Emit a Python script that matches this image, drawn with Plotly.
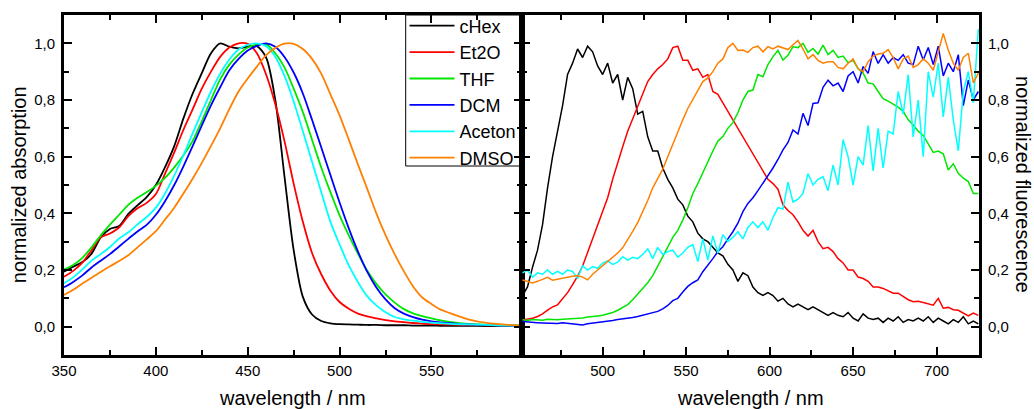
import plotly.graph_objects as go

# ---------------- data ----------------
SOLVENTS = ["cHex", "Et2O", "THF", "DCM", "Aceton", "DMSO"]
COLORS = ["#000000", "#ff0000", "#00e600", "#0000ff", "#00ffff", "#ff8000"]

WL_ABS = [350, 355, 360, 365, 370, 375, 380, 385, 390, 395, 400, 405, 410, 415, 420,
          425, 430, 435, 440, 445, 450, 455, 460, 465, 470, 475, 480, 485, 490, 495,
          500, 505, 510, 515, 520, 525, 530, 535, 540, 545, 550, 555, 560, 570, 580,
          590, 600]

ABS_CHEX = [0.194, 0.212, 0.228, 0.258, 0.315, 0.345, 0.355, 0.398, 0.428, 0.457, 0.50,
            0.563, 0.637, 0.735, 0.822, 0.895, 0.965, 1.0, 0.988, 0.982, 0.988, 0.99,
            0.95, 0.80, 0.53, 0.27, 0.105, 0.043, 0.02, 0.012, 0.009, 0.008, 0.007,
            0.006, 0.006, 0.005, 0.005, 0.005, 0.004, 0.004, 0.004, 0.003, 0.003,
            0.003, 0.002, 0.002, 0.002]
ABS_ET2O = [0.176, 0.197, 0.226, 0.27, 0.315, 0.329, 0.35, 0.39, 0.418, 0.437, 0.468,
            0.54, 0.615, 0.695, 0.767, 0.84, 0.90, 0.952, 0.985, 1.0, 0.998, 0.965,
            0.89, 0.785, 0.655, 0.505, 0.37, 0.26, 0.185, 0.127, 0.087, 0.063, 0.046,
            0.036, 0.029, 0.023, 0.019, 0.016, 0.013, 0.011, 0.009, 0.008, 0.007,
            0.006, 0.005, 0.004, 0.003]
ABS_THF = [0.202, 0.218, 0.243, 0.28, 0.322, 0.36, 0.395, 0.43, 0.455, 0.475, 0.497,
           0.525, 0.562, 0.605, 0.655, 0.725, 0.80, 0.873, 0.925, 0.96, 0.985, 0.996,
           0.997, 0.965, 0.915, 0.84, 0.757, 0.66, 0.562, 0.475, 0.393, 0.322, 0.257,
           0.198, 0.151, 0.114, 0.085, 0.062, 0.047, 0.037, 0.029, 0.022, 0.017,
           0.01, 0.007, 0.005, 0.004]
ABS_DCM = [0.139, 0.158, 0.181, 0.209, 0.233, 0.256, 0.283, 0.31, 0.336, 0.359, 0.395,
           0.443, 0.5, 0.566, 0.637, 0.71, 0.781, 0.845, 0.905, 0.945, 0.975, 0.991,
           1.0, 0.988, 0.952, 0.897, 0.823, 0.73, 0.633, 0.535, 0.438, 0.347, 0.265,
           0.194, 0.138, 0.096, 0.065, 0.046, 0.034, 0.025, 0.019, 0.015, 0.012,
           0.008, 0.006, 0.004, 0.003]
ABS_ACETON = [0.153, 0.174, 0.202, 0.233, 0.256, 0.281, 0.311, 0.333, 0.361, 0.387,
              0.42, 0.47, 0.533, 0.605, 0.682, 0.757, 0.83, 0.893, 0.943, 0.978, 0.995,
              1.0, 0.99, 0.953, 0.885, 0.795, 0.69, 0.582, 0.475, 0.37, 0.29, 0.216,
              0.157, 0.108, 0.075, 0.051, 0.034, 0.026, 0.021, 0.017, 0.014, 0.012,
              0.01, 0.008, 0.006, 0.004, 0.003]
ABS_DMSO = [0.112, 0.13, 0.152, 0.173, 0.193, 0.213, 0.232, 0.252, 0.28, 0.308, 0.337,
            0.378, 0.42, 0.47, 0.522, 0.578, 0.638, 0.70, 0.768, 0.83, 0.876, 0.918,
            0.958, 0.984, 0.999, 0.998, 0.98, 0.945, 0.893, 0.82, 0.746, 0.66, 0.572,
            0.487, 0.40, 0.323, 0.255, 0.195, 0.142, 0.103, 0.08, 0.06, 0.048, 0.026,
            0.013, 0.007, 0.004]

WL_FL = [452, 455, 458, 461, 464, 467, 470, 473, 476, 479,
         482, 485, 488, 491, 494, 497, 500, 503, 506, 509,
         512, 515, 518, 521, 524, 527, 530, 533, 536, 539,
         542, 545, 548, 551, 554, 557, 560, 563, 566, 569,
         572, 575, 578, 581, 584, 587, 590, 593, 596, 599,
         602, 605, 608, 611, 614, 617, 620, 623, 626, 629,
         632, 635, 638, 641, 644, 647, 650, 653, 656, 659,
         662, 665, 668, 671, 674, 677, 680, 683, 686, 689,
         692, 695, 698, 701, 704, 707, 710, 713, 716, 719,
         722, 725]

FL_CHEX = [0.11, 0.14, 0.21, 0.27, 0.36, 0.49, 0.60, 0.69, 0.78, 0.89,
           0.93, 0.98, 0.95, 0.99, 0.97, 0.92, 0.89, 0.93, 0.86, 0.89,
           0.80, 0.88, 0.84, 0.75, 0.76, 0.67, 0.62, 0.62, 0.56, 0.52,
           0.49, 0.45, 0.43, 0.39, 0.37, 0.33, 0.31, 0.30, 0.28, 0.26,
           0.25, 0.22, 0.20, 0.16, 0.19, 0.18, 0.14, 0.12, 0.11, 0.12,
           0.11, 0.09, 0.10, 0.08, 0.07, 0.08, 0.07, 0.06, 0.07, 0.06,
           0.05, 0.04, 0.05, 0.04, 0.035, 0.05, 0.03, 0.02, 0.045, 0.03,
           0.025, 0.03, 0.015, 0.03, 0.02, 0.035, 0.015, 0.025, 0.02, 0.03,
           0.02, 0.035, 0.015, 0.03, 0.02, 0.01, 0.025, 0.015, 0.035, 0.01,
           0.02, 0.01]
FL_ET2O = [0.024, 0.027, 0.03, 0.036, 0.045, 0.058, 0.07, 0.077, 0.10, 0.12,
           0.148, 0.178, 0.214, 0.262, 0.31, 0.356, 0.40, 0.455, 0.52, 0.58,
           0.635, 0.69, 0.735, 0.78, 0.82, 0.865, 0.89, 0.91, 0.925, 0.945,
           0.985, 0.99, 0.94, 0.94, 0.905, 0.91, 0.88, 0.89, 0.83, 0.82,
           0.79, 0.76, 0.73, 0.70, 0.67, 0.645, 0.61, 0.58, 0.55, 0.52,
           0.505, 0.485, 0.43, 0.41, 0.395, 0.37, 0.34, 0.32, 0.34, 0.30,
           0.275, 0.28, 0.265, 0.24, 0.225, 0.20, 0.20, 0.175, 0.17, 0.16,
           0.14, 0.14, 0.135, 0.125, 0.118, 0.118, 0.105, 0.095, 0.088, 0.09,
           0.085, 0.08, 0.076, 0.10, 0.065, 0.068, 0.06, 0.058, 0.047, 0.038,
           0.048, 0.04]
FL_THF = [0.024, 0.022, 0.025, 0.024, 0.023, 0.026, 0.025, 0.024, 0.026, 0.027,
          0.028, 0.03, 0.031, 0.034, 0.035, 0.038, 0.04, 0.045, 0.05, 0.058,
          0.068, 0.078, 0.095, 0.115, 0.132, 0.155, 0.18, 0.215, 0.25, 0.285,
          0.315, 0.34, 0.376, 0.42, 0.47, 0.505, 0.545, 0.58, 0.62, 0.655,
          0.671, 0.70, 0.72, 0.755, 0.80, 0.83, 0.835, 0.89, 0.882, 0.925,
          0.953, 0.975, 0.941, 0.958, 0.988, 0.985, 1.0, 0.968, 0.982, 0.962,
          0.994, 0.96, 0.975, 0.95, 0.955, 0.932, 0.94, 0.91, 0.895, 0.86,
          0.857, 0.83, 0.805, 0.796, 0.785, 0.775, 0.76, 0.73, 0.712, 0.69,
          0.675, 0.645, 0.615, 0.62, 0.61, 0.553, 0.575, 0.541, 0.524, 0.512,
          0.47, 0.47]
FL_DCM = [0.018, 0.016, 0.015, 0.014, 0.013, 0.012, 0.012, 0.011, 0.014, 0.012,
          0.01, 0.009, 0.006, 0.01, 0.012, 0.015, 0.018, 0.02, 0.022, 0.025,
          0.027, 0.03, 0.032, 0.036, 0.041, 0.045, 0.05, 0.054, 0.063, 0.075,
          0.092, 0.10, 0.122, 0.142, 0.155, 0.165, 0.194, 0.215, 0.24, 0.265,
          0.282, 0.31, 0.335, 0.365, 0.406, 0.435, 0.455, 0.48, 0.506, 0.53,
          0.56, 0.59, 0.624, 0.65, 0.694, 0.68, 0.753, 0.71, 0.788, 0.79,
          0.845, 0.87, 0.85, 0.86, 0.83, 0.885, 0.90, 0.86, 0.918, 0.894,
          0.971, 0.929, 0.96, 0.93, 0.95, 0.94, 0.96, 0.93, 0.925, 0.99,
          0.941, 0.985, 0.925, 0.99, 0.885, 0.93, 0.90, 0.96, 0.78, 0.87,
          0.80, 0.83]
FL_ACETON = [0.19, 0.20, 0.175, 0.19, 0.185, 0.20, 0.185, 0.195, 0.185, 0.20,
             0.195, 0.17, 0.215, 0.20, 0.212, 0.206, 0.224, 0.232, 0.22, 0.228,
             0.247, 0.235, 0.245, 0.24, 0.255, 0.275, 0.24, 0.28, 0.255, 0.265,
             0.27, 0.245, 0.26, 0.28, 0.29, 0.23, 0.31, 0.235, 0.32, 0.26,
             0.325, 0.30, 0.315, 0.335, 0.31, 0.35, 0.37, 0.35, 0.37, 0.34,
             0.385, 0.42, 0.415, 0.51, 0.44, 0.45, 0.47, 0.54, 0.50, 0.52,
             0.53, 0.48, 0.57, 0.50, 0.66, 0.60, 0.50, 0.60, 0.57, 0.71,
             0.55, 0.70, 0.56, 0.69, 0.68, 0.83, 0.75, 0.89, 0.67, 0.80,
             0.60, 0.90, 0.81, 0.93, 0.74, 0.88, 0.73, 0.62, 0.83, 0.90,
             0.79, 1.05]
FL_DMSO = [0.165, 0.159, 0.154, 0.16, 0.168, 0.174, 0.164, 0.168, 0.172, 0.176,
           0.178, 0.18, 0.175, 0.165, 0.185, 0.20, 0.215, 0.227, 0.242, 0.26,
           0.278, 0.305, 0.336, 0.367, 0.403, 0.445, 0.49, 0.525, 0.556, 0.60,
           0.645, 0.685, 0.73, 0.77, 0.80, 0.83, 0.865, 0.878, 0.90, 0.93,
           0.945, 0.985, 1.0, 0.975, 0.976, 0.968, 0.985, 0.99, 0.97, 0.988,
           0.98, 0.99, 0.985, 0.978, 0.995, 1.01, 0.98, 0.945, 0.96, 0.94,
           0.93, 0.935, 0.935, 0.915, 0.91, 0.93, 0.945, 0.91, 0.90, 0.935,
           0.955, 0.962, 0.965, 0.978, 0.95, 0.91, 0.945, 0.955, 0.915, 0.925,
           0.945, 0.93, 0.905, 0.975, 1.035, 0.976, 0.93, 0.905, 0.95, 0.965,
           0.86, 0.895]

ABS = [ABS_CHEX, ABS_ET2O, ABS_THF, ABS_DCM, ABS_ACETON, ABS_DMSO]
FL = [FL_CHEX, FL_ET2O, FL_THF, FL_DCM, FL_ACETON, FL_DMSO]

X1_TICKS = [350, 400, 450, 500, 550]
X1_MINOR = [375, 425, 475, 525, 575]
X2_TICKS = [500, 550, 600, 650, 700]
X2_MINOR = [475, 525, 575, 625, 675, 725]
Y_TICKS = [0.0, 0.2, 0.4, 0.6, 0.8, 1.0]
Y_MINOR = [-0.1, 0.1, 0.3, 0.5, 0.7, 0.9, 1.1]

X_TITLE = "wavelength / nm"
Y1_TITLE = "normalized absorption"
Y2_TITLE = "normalized fluorescence"

# ---------------- figure ----------------
FONT = "Liberation Sans, Arial, sans-serif"
W, H = 1034, 409
ML, MR, MT, MB = 64, 55, 15, 54
fig = go.Figure()

for name, col, ys in zip(SOLVENTS, COLORS, ABS):
    fig.add_trace(go.Scatter(x=WL_ABS, y=ys, name=name, mode="lines",
                             line=dict(color=col, width=1.8, shape="spline", smoothing=0.8),
                             xaxis="x", yaxis="y", legendgroup=name))
for name, col, ys in zip(SOLVENTS, COLORS, FL):
    fig.add_trace(go.Scatter(x=WL_FL, y=ys, name=name, mode="lines",
                             line=dict(color=col, width=1.5),
                             xaxis="x2", yaxis="y2", showlegend=False))

axis_common = dict(showline=True, linewidth=3, linecolor="black", mirror="allticks",
                   ticks="inside", ticklen=8, tickwidth=2, tickcolor="black",
                   showgrid=False, zeroline=False, automargin=False,
                   tickfont=dict(family=FONT, size=15, color="black"))

minor_style = dict(tickmode="array", ticks="inside", ticklen=5, tickwidth=2,
                   tickcolor="black")

fig.update_layout(
    width=W, height=H,
    margin=dict(l=ML, r=MR, t=MT, b=MB, pad=0, autoexpand=False),
    paper_bgcolor="white", plot_bgcolor="white",
    separators=", ",
    font=dict(family=FONT, color="black"),
    xaxis=dict(domain=[0, 0.5], range=[350, 599], anchor="y",
               tickmode="array", tickvals=X1_TICKS,
               minor=dict(tickvals=X1_MINOR, **minor_style),
               ticklabelstandoff=0, **axis_common),
    yaxis=dict(domain=[0, 1], range=[-0.1, 1.1], anchor="x",
               tickmode="array", tickvals=Y_TICKS, tickformat=".1f",
               minor=dict(tickvals=Y_MINOR, **minor_style),
               ticklabelstandoff=3, **axis_common),
    xaxis2=dict(domain=[0.5, 1], range=[451.4, 725.4], anchor="y2",
                tickmode="array", tickvals=X2_TICKS,
                minor=dict(tickvals=X2_MINOR, **minor_style),
                ticklabelstandoff=0, **axis_common),
    yaxis2=dict(domain=[0, 1], range=[-0.1, 1.1], anchor="x2", side="right",
                tickmode="array", tickvals=Y_TICKS, tickformat=".1f",
                minor=dict(tickvals=Y_MINOR, **minor_style),
                ticklabelstandoff=3, **axis_common),
    legend=dict(x=0.5, xanchor="right", xref="paper",
                y=1 - 7.5 / H, yanchor="top", yref="container",
                bgcolor="rgba(0,0,0,0)", borderwidth=0,
                font=dict(family=FONT, size=18, color="black"),
                itemwidth=45, tracegroupgap=0, traceorder="normal"),
    showlegend=True,
)

# legend frame (box drawn to the reference's extent)
PH = H - MT - MB
fig.add_shape(type="rect", xref="paper", yref="paper",
              x0=(405.7 - ML) / (W - ML - MR), x1=0.5,
              y0=(H - MB - 166) / PH, y1=1.0,
              line=dict(color="black", width=1), fillcolor="white", layer="below")

title_font = dict(family=FONT, size=20, color="black")
fig.add_annotation(text=X_TITLE, xref="paper", yref="paper", x=0.25, y=-0.127,
                   showarrow=False, font=title_font, xanchor="center", yanchor="middle")
fig.add_annotation(text=X_TITLE, xref="paper", yref="paper", x=0.75, y=-0.127,
                   showarrow=False, font=title_font, xanchor="center", yanchor="middle")
fig.add_annotation(text=Y1_TITLE, xref="paper", yref="paper", x=-0.049, y=0.5,
                   showarrow=False, font=title_font, textangle=-90,
                   xanchor="center", yanchor="middle")
fig.add_annotation(text=Y2_TITLE, xref="paper", yref="paper", x=1.048, y=0.5,
                   showarrow=False, font=title_font, textangle=90,
                   xanchor="center", yanchor="middle")

fig.write_html("out.html",
               config={"displayModeBar": False},
               post_script="document.body.style.margin='0px';document.body.style.overflow='hidden';")
